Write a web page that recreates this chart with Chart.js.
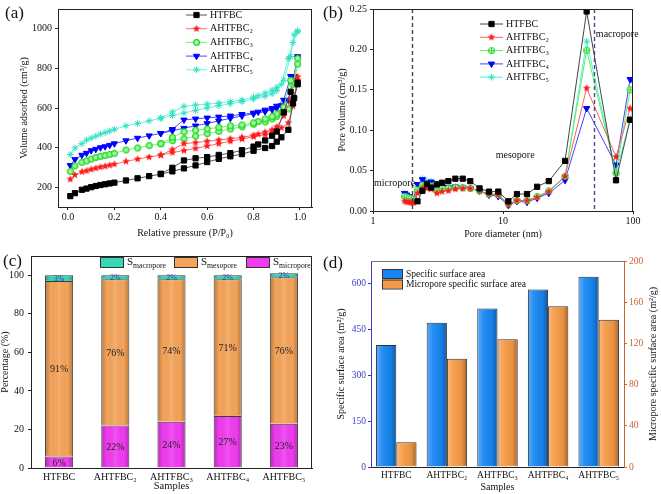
<!DOCTYPE html>
<html>
<head>
<meta charset="utf-8">
<title>Pore structure of HTFBC samples</title>
<script src="https://cdn.jsdelivr.net/npm/chart.js@4.4.1/dist/chart.umd.min.js"></script>
<style>
  html, body { margin: 0; padding: 0; background: #fff; }
  #page { position: relative; width: 661px; height: 494px; overflow: hidden; font-family: "Liberation Serif", "Times New Roman", serif; }
  #page canvas { position: absolute; }
  .tag { position: absolute; font-size: 17px; line-height: 20px; color: #111; }
</style>
</head>
<body>
<div id="page">
  <canvas id="chartA" width="330" height="240" style="left:0;top:0"></canvas>
  <canvas id="chartB" width="331" height="240" style="left:330px;top:0"></canvas>
  <canvas id="chartC" width="330" height="254" style="left:0;top:240px"></canvas>
  <canvas id="chartD" width="331" height="254" style="left:330px;top:240px"></canvas>
  <div class="tag" style="left:5px;top:3px">(a)</div>
  <div class="tag" style="left:323px;top:3px">(b)</div>
  <div class="tag" style="left:3px;top:251px">(c)</div>
  <div class="tag" style="left:323px;top:253px">(d)</div>
</div>
<script>
// ---- data -------------------------------------------------------------
const sampleNames = ['HTFBC', 'AHTFBC₂', 'AHTFBC₃', 'AHTFBC₄', 'AHTFBC₅'];

// (a) N2 isotherms, adsorption branch then desorption branch
const pAds = [0.01, 0.03, 0.06, 0.08, 0.10, 0.12, 0.14, 0.16, 0.18, 0.20, 0.25, 0.30, 0.35, 0.40, 0.45,
  0.50, 0.55, 0.60, 0.65, 0.70, 0.75, 0.80, 0.85, 0.88, 0.90, 0.92, 0.95, 0.97, 0.99];
const pDes = [0.99, 0.975, 0.96, 0.93, 0.90, 0.88, 0.85, 0.82, 0.80, 0.75, 0.70, 0.65, 0.60, 0.55, 0.50, 0.45, 0.40];
const adsHTFBC = [155, 170, 187, 193, 200, 206, 211, 215, 219, 223, 234, 245, 256, 266, 280, 295, 310, 327, 343, 356, 367, 384, 398, 408, 430, 452, 490, 623, 728];
const desHTFBC = [720, 650, 682, 578, 481, 460, 436, 416, 405, 387, 372, 363, 352, 346, 335, 298, 268];
const adsAH2 = [240, 262, 278, 283, 290, 296, 302, 306, 311, 316, 330, 342, 352, 362, 375, 385, 396, 408, 420, 432, 443, 455, 465, 475, 485, 500, 525, 610, 758];
const desAH2 = [740, 650, 640, 560, 505, 490, 478, 468, 462, 452, 445, 438, 432, 425, 420, 390, 362];
const adsAH3 = [280, 308, 326, 333, 342, 350, 356, 361, 366, 371, 388, 398, 410, 420, 435, 445, 458, 470, 482, 494, 505, 518, 530, 545, 558, 578, 595, 720, 850];
const desAH3 = [822, 730, 740, 605, 570, 557, 545, 532, 525, 515, 510, 502, 494, 488, 480, 452, 420];
const adsAH4 = [310, 340, 362, 372, 385, 392, 400, 405, 412, 420, 435, 448, 460, 472, 485, 498, 510, 522, 535, 548, 560, 570, 582, 592, 600, 612, 640, 740, 860];
const desAH4 = [850, 760, 760, 640, 610, 598, 590, 580, 575, 568, 560, 555, 550, 545, 540, 492, 472];
const adsAH5 = [365, 398, 420, 438, 448, 458, 468, 476, 484, 492, 510, 522, 535, 548, 562, 575, 588, 600, 612, 622, 632, 645, 660, 672, 688, 720, 850, 930, 985];
const desAH5 = [990, 970, 860, 740, 705, 690, 675, 662, 655, 640, 632, 625, 620, 615, 608, 580, 550];
const ticksAx = [0, 0.2, 0.4, 0.6, 0.8, 1.0];
const ticksAy = [200, 400, 600, 800, 1000];

// (b) pore size distribution
const poreDiam = [1.75, 1.82, 1.9, 1.97, 2.05, 2.2, 2.4, 2.6, 2.8, 3.1, 3.4, 3.8, 4.3, 4.9, 5.6, 6.6, 7.8, 9.2, 11, 12.8, 15.3, 18.3, 22.5, 30, 44, 74, 95, 105];
const pvHTFBC = [null, null, null, null, null, 0.012, 0.025, 0.033, 0.029, 0.033, 0.035, 0.037, 0.040, 0.040, 0.037, 0.028, 0.024, 0.024, 0.012, 0.021, 0.021, 0.030, 0.037, 0.062, 0.247, 0.038, 0.113, 0.113];
const pvAH2 = [0.012, 0.011, 0.011, 0.010, 0.010, 0.022, 0.028, 0.028, 0.027, 0.022, 0.024, 0.025, 0.027, 0.028, 0.028, 0.025, 0.021, 0.020, 0.008, 0.013, 0.013, 0.017, 0.024, 0.043, 0.152, 0.067, 0.127, 0.118];
const pvAH3 = [0.018, 0.017, 0.016, 0.015, 0.014, 0.026, 0.032, 0.033, 0.031, 0.025, 0.028, 0.028, 0.029, 0.029, 0.028, 0.025, 0.021, 0.020, 0.009, 0.013, 0.013, 0.018, 0.025, 0.043, 0.199, 0.047, 0.150, 0.152];
const pvAH4 = [0.022, 0.020, 0.018, 0.016, 0.015, 0.033, 0.039, 0.035, 0.036, 0.026, 0.030, 0.029, 0.030, 0.029, 0.028, 0.025, 0.020, 0.018, 0.007, 0.012, 0.011, 0.016, 0.022, 0.038, 0.127, 0.057, 0.163, 0.150];
const pvAH5 = [0.020, 0.019, 0.017, 0.016, 0.015, 0.030, 0.040, 0.037, 0.037, 0.027, 0.030, 0.030, 0.030, 0.029, 0.028, 0.024, 0.020, 0.019, 0.008, 0.013, 0.012, 0.017, 0.024, 0.042, 0.210, 0.047, 0.113, 0.152];
const poreBounds = [2, 50];
const ticksBx = [1, 10, 100];
const ticksBy = [0, 0.05, 0.10, 0.15, 0.20, 0.25];

// (c) share of surface area by pore type (%)
const microPct = [6, 22, 24, 27, 23];
const mesoPct = [91, 76, 74, 71, 76];
const macroPct = [3, 2, 2, 2, 2];
const ticksCy = [0, 20, 40, 60, 80, 100];

// (d) surface areas (m2/g)
const ssaTotal = [400, 473, 519, 582, 623];
const ssaMicro = [24, 105, 124, 156, 143];
const ticksDy = [0, 150, 300, 450, 600];
const ticksDy1 = [0, 40, 80, 120, 160, 200];

// ---- helpers ----------------------------------------------------------
const FAMILY = '"Liberation Serif", "Times New Roman", serif';
Chart.defaults.font.family = FAMILY;
Chart.defaults.color = '#111';
Chart.defaults.animation = false;

const tickFont = { family: FAMILY, size: 10 };
const titleFont = { family: FAMILY, size: 10 };

function setTicks(list) {
  return s => { s.ticks = list.map(v => ({ value: v })); };
}

function starImage(color, r) {
  const c = document.createElement('canvas');
  const s = Math.ceil(r * 2 + 2);
  c.width = c.height = s;
  const g = c.getContext('2d');
  g.beginPath();
  for (let k = 0; k < 10; k++) {
    const rad = k % 2 ? r * 0.45 : r;
    const ang = -Math.PI / 2 + k * Math.PI / 5;
    g.lineTo(s / 2 + rad * Math.cos(ang), s / 2 + rad * Math.sin(ang));
  }
  g.closePath();
  g.fillStyle = color;
  g.fill();
  return c;
}

function ringImage(color, inner, r, cross) {
  const c = document.createElement('canvas');
  const s = Math.ceil(r * 2 + 2);
  c.width = c.height = s;
  const g = c.getContext('2d');
  g.beginPath();
  g.arc(s / 2, s / 2, r - 0.5, 0, Math.PI * 2);
  if (inner) { g.fillStyle = inner; g.fill(); }
  g.strokeStyle = color;
  g.lineWidth = 1.2;
  g.stroke();
  if (cross) {
    g.beginPath();
    g.moveTo(s / 2 - r + 1, s / 2); g.lineTo(s / 2 + r - 1, s / 2);
    g.moveTo(s / 2, s / 2 - r + 1); g.lineTo(s / 2, s / 2 + r - 1);
    g.stroke();
  }
  return c;
}

function pts(xs, ys) {
  return xs.map((x, i) => ({ x, y: ys[i] })).filter(p => p.y !== null);
}

// frame lines on the sides that have no axis
const framePlugin = {
  id: 'frame',
  afterDatasetsDraw(chart, args, o) {
    const { ctx, chartArea: a } = chart;
    ctx.save();
    ctx.strokeStyle = o.color || '#222';
    ctx.lineWidth = 1;
    ctx.beginPath();
    if (o.top) { ctx.moveTo(a.left, a.top + 0.5); ctx.lineTo(a.right, a.top + 0.5); }
    if (o.right) { ctx.moveTo(a.right - 0.5, a.top); ctx.lineTo(a.right - 0.5, a.bottom); }
    ctx.stroke();
    ctx.restore();
  }
};

// legend with line + marker, drawn inside the plot
const lineLegend = {
  id: 'lineLegend',
  afterDraw(chart, args, o) {
    const ctx = chart.ctx;
    ctx.save();
    chart.data.datasets.forEach((ds, i) => {
      const y = o.y + i * o.gap;
      ctx.strokeStyle = ds.borderColor;
      ctx.lineWidth = 1;
      ctx.beginPath();
      ctx.moveTo(o.x, y); ctx.lineTo(o.x + o.len, y);
      ctx.stroke();
      ctx.fillStyle = ds.pointBackgroundColor;
      ctx.strokeStyle = ds.pointBorderColor;
      ctx.lineWidth = 1;
      Chart.helpers.drawPoint(ctx, {
        pointStyle: ds.pointStyle, radius: ds.pointRadius,
        rotation: ds.pointRotation || 0, borderWidth: 1
      }, o.x + o.len / 2, y);
      ctx.fillStyle = '#111';
      ctx.font = '10px ' + FAMILY;
      ctx.textBaseline = 'middle';
      ctx.textAlign = 'left';
      ctx.fillText(ds.label, o.x + o.len + 3, y);
    });
    ctx.restore();
  }
};

// dashed boundaries and region names in (b)
const poreMarks = {
  id: 'poreMarks',
  afterDatasetsDraw(chart, args, o) {
    const { ctx, chartArea: a, scales } = chart;
    ctx.save();
    o.lines.forEach(l => {
      const px = Math.round(scales.x.getPixelForValue(l.value)) + 0.5;
      ctx.strokeStyle = l.color;
      ctx.lineWidth = 1.4;
      ctx.setLineDash([4, 3]);
      ctx.beginPath();
      ctx.moveTo(px, a.top); ctx.lineTo(px, a.bottom);
      ctx.stroke();
    });
    ctx.setLineDash([]);
    ctx.fillStyle = '#111';
    ctx.font = '10px ' + FAMILY;
    ctx.textBaseline = 'middle';
    o.texts.forEach(t => {
      ctx.textAlign = t.align;
      ctx.fillText(t.text, scales.x.getPixelForValue(t.x) + (t.dx || 0), scales.y.getPixelForValue(t.y));
    });
    ctx.restore();
  }
};

// soft shading across each bar
const barShade = {
  id: 'barShade',
  afterDatasetsDraw(chart, args, o) {
    const ctx = chart.ctx;
    ctx.save();
    chart.data.datasets.forEach((ds, i) => {
      chart.getDatasetMeta(i).data.forEach(bar => {
        const { x, y, base, width } = bar.getProps(['x', 'y', 'base', 'width'], true);
        const l = x - width / 2 + 1, w = width - 2;
        const top = Math.min(y, base) + 1, h = Math.abs(base - y) - 2;
        if (h <= 0) return;
        const g = ctx.createLinearGradient(l, 0, l + w, 0);
        o.stops.forEach(s => g.addColorStop(s[0], s[1]));
        ctx.fillStyle = g;
        ctx.fillRect(l, top, w, h);
      });
    });
    ctx.restore();
  }
};

// percentage labels on the stacked bars
const barLabels = {
  id: 'barLabels',
  afterDatasetsDraw(chart) {
    const ctx = chart.ctx;
    ctx.save();
    ctx.textAlign = 'center';
    ctx.textBaseline = 'middle';
    chart.data.datasets.forEach((ds, i) => {
      chart.getDatasetMeta(i).data.forEach((bar, j) => {
        const { x, y, base } = bar.getProps(['x', 'y', 'base'], true);
        ctx.font = ds.labelSize + 'px ' + FAMILY;
        ctx.fillStyle = ds.labelColor;
        ctx.fillText(ds.data[j] + '%', x, (y + base) / 2 + 1);
      });
    });
    ctx.restore();
  }
};

// box legend; label "S_sub" is drawn with a subscript
const boxLegend = {
  id: 'boxLegend',
  afterDraw(chart, args, o) {
    const ctx = chart.ctx;
    ctx.save();
    o.items.forEach(it => {
      const ds = chart.data.datasets[it.index];
      ctx.fillStyle = ds.backgroundColor;
      ctx.fillRect(it.x, it.y, o.w, o.h);
      ctx.strokeStyle = '#333';
      ctx.lineWidth = 1;
      ctx.strokeRect(it.x + 0.5, it.y + 0.5, o.w, o.h);
      const parts = ds.label.split('_');
      ctx.fillStyle = '#111';
      ctx.textBaseline = 'middle';
      ctx.textAlign = 'left';
      ctx.font = o.size + 'px ' + FAMILY;
      let tx = it.x + o.w + 4;
      const ty = it.y + o.h / 2 + 0.5;
      ctx.fillText(parts[0], tx, ty);
      if (parts[1]) {
        tx += ctx.measureText(parts[0]).width;
        ctx.font = (o.size * 0.7) + 'px ' + FAMILY;
        ctx.fillText(parts[1], tx, ty + 3);
      }
    });
    ctx.restore();
  }
};

// right-hand title reading bottom to top
const sideTitle = {
  id: 'sideTitle',
  afterDraw(chart, args, o) {
    const { ctx, chartArea: a } = chart;
    ctx.save();
    ctx.translate(o.x, (a.top + a.bottom) / 2);
    ctx.rotate(-Math.PI / 2);
    ctx.fillStyle = '#111';
    ctx.font = '10px ' + FAMILY;
    ctx.textAlign = 'center';
    ctx.textBaseline = 'middle';
    ctx.fillText(o.text, 0, 0);
    ctx.restore();
  }
};

function axisStyle(color) {
  return {
    grid: { display: true, drawOnChartArea: false, tickLength: 3, tickColor: color },
    border: { display: true, color: color, width: 1 }
  };
}

const noGrid = { display: false, drawTicks: false };

// ---- (a) isotherms ----------------------------------------------------
const pressure = pAds.concat(pDes);
const isoSeries = [
  { label: sampleNames[0], ads: adsHTFBC, des: desHTFBC, line: '#555', fill: '#000', edge: '#000', style: 'rect', r: 3.7 },
  { label: sampleNames[1], ads: adsAH2, des: desAH2, line: '#ff6a6a', fill: '#ff1a1a', edge: '#ff1a1a', style: starImage('#ff1a1a', 4), r: 4 },
  { label: sampleNames[2], ads: adsAH3, des: desAH3, line: '#6cf56c', fill: '#b8ffb8', edge: '#1ed21e', style: ringImage('#1ed21e', '#9dff9d', 3.4, false), r: 3.4 },
  { label: sampleNames[3], ads: adsAH4, des: desAH4, line: '#4a4aff', fill: '#0000ff', edge: '#0000ff', style: 'triangle', r: 3.6, rot: 180 },
  { label: sampleNames[4], ads: adsAH5, des: desAH5, line: '#66f5dd', fill: '#33e8c8', edge: '#2ee0c0', style: 'star', r: 3.4 }
];

new Chart(document.getElementById('chartA'), {
  type: 'line',
  data: {
    datasets: isoSeries.map(s => ({
      label: s.label,
      data: pts(pressure, s.ads.concat(s.des)),
      borderColor: s.line,
      borderWidth: 1,
      pointStyle: s.style,
      pointRadius: s.r,
      pointRotation: s.rot || 0,
      pointBackgroundColor: s.fill,
      pointBorderColor: s.edge,
      pointBorderWidth: 1,
      tension: 0
    }))
  },
  options: {
    responsive: false,
    devicePixelRatio: 1,
    layout: { padding: { top: 2, right: 18, left: 0, bottom: 0 } },
    plugins: {
      legend: { display: false },
      tooltip: { enabled: false },
      frame: { top: true, right: true },
      lineLegend: { x: 186, y: 15, gap: 13.7, len: 21 }
    },
    scales: {
      x: Object.assign({
        type: 'linear', min: -0.043, max: 1.052,
        afterBuildTicks: setTicks(ticksAx),
        afterFit: s => { s.height = 33; },
        ticks: { callback: v => v.toFixed(1), font: tickFont, padding: 1, autoSkip: false, maxRotation: 0 },
        title: { display: true, text: 'Relative pressure (P/P₀)', font: titleFont, padding: { top: 0, bottom: 1 } }
      }, axisStyle('#222')),
      y: Object.assign({
        type: 'linear', min: 100, max: 1100,
        afterBuildTicks: setTicks(ticksAy),
        afterFit: s => { s.width = 58; },
        ticks: { callback: v => String(v), font: tickFont, padding: 3, autoSkip: false },
        title: { display: true, text: 'Volume adsorbed (cm³/g)', font: titleFont, padding: { top: 18, bottom: 0 } }
      }, axisStyle('#222'))
    }
  },
  plugins: [framePlugin, lineLegend]
});

// ---- (b) pore size distribution ---------------------------------------
const psdSeries = [
  { label: sampleNames[0], v: pvHTFBC, line: '#444', fill: '#000', edge: '#000', style: 'rect', r: 3.7 },
  { label: sampleNames[1], v: pvAH2, line: '#ff6060', fill: '#ff1a1a', edge: '#ff1a1a', style: starImage('#ff1a1a', 4), r: 4 },
  { label: sampleNames[2], v: pvAH3, line: '#5cf05c', fill: '#e6ffe6', edge: '#3ad83a', style: ringImage('#3ad83a', '#eaffea', 3.5, true), r: 3.5 },
  { label: sampleNames[3], v: pvAH4, line: '#4444ff', fill: '#0000ff', edge: '#0000ff', style: 'triangle', r: 3.6, rot: 180 },
  { label: sampleNames[4], v: pvAH5, line: '#4cf5dc', fill: '#2ee6c6', edge: '#2ee6c6', style: 'star', r: 3.4 }
];

new Chart(document.getElementById('chartB'), {
  type: 'line',
  data: {
    datasets: psdSeries.map(s => ({
      label: s.label,
      data: pts(poreDiam, s.v),
      borderColor: s.line,
      borderWidth: 1,
      pointStyle: s.style,
      pointRadius: s.r,
      pointRotation: s.rot || 0,
      pointBackgroundColor: s.fill,
      pointBorderColor: s.edge,
      pointBorderWidth: 1,
      tension: 0
    }))
  },
  options: {
    responsive: false,
    devicePixelRatio: 1,
    layout: { padding: { top: 7, right: 28, left: 0, bottom: 0 } },
    plugins: {
      legend: { display: false },
      tooltip: { enabled: false },
      frame: { top: true, right: true },
      lineLegend: { x: 150, y: 24, gap: 13.3, len: 23 },
      poreMarks: {
        lines: [{ value: poreBounds[0], color: '#444' }, { value: poreBounds[1], color: '#4a4a8c' }],
        texts: [
          { text: 'micropore', x: 1, y: 0.0347, align: 'left', dx: 1 },
          { text: 'mesopore', x: 12.4, y: 0.0685, align: 'center' },
          { text: 'macropore', x: 50, y: 0.2186, align: 'left', dx: 2 }
        ]
      }
    },
    scales: {
      x: Object.assign({
        type: 'logarithmic', min: 1, max: 100,
        afterBuildTicks: setTicks(ticksBx),
        afterFit: s => { s.height = 29; },
        ticks: { callback: v => String(v), font: tickFont, padding: 1, autoSkip: false, maxRotation: 0 },
        title: { display: true, text: 'Pore diameter (nm)', font: titleFont, padding: { top: 0, bottom: 0 } }
      }, axisStyle('#222')),
      y: Object.assign({
        type: 'linear', min: 0, max: 0.25,
        afterBuildTicks: setTicks(ticksBy),
        afterFit: s => { s.width = 43; },
        ticks: { callback: v => v.toFixed(2), font: tickFont, padding: 3, autoSkip: false },
        title: { display: true, text: 'Pore volume (cm³/g)', font: titleFont, padding: { top: 6, bottom: 0 } }
      }, axisStyle('#222'))
    }
  },
  plugins: [framePlugin, poreMarks, lineLegend]
});

// ---- (c) stacked percentage bars --------------------------------------
new Chart(document.getElementById('chartC'), {
  type: 'bar',
  data: {
    labels: sampleNames,
    datasets: [
      { label: 'S_micropore', data: microPct, backgroundColor: '#f03cf0', labelColor: '#222', labelSize: 10 },
      { label: 'S_mesopore', data: mesoPct, backgroundColor: '#f5a45a', labelColor: '#222', labelSize: 10 },
      { label: 'S_macropore', data: macroPct, backgroundColor: '#36d6b6', labelColor: '#2a3aa8', labelSize: 8 }
    ].map(d => Object.assign(d, { borderColor: '#3a3a3a', borderWidth: 1, barPercentage: 0.5, categoryPercentage: 1 }))
  },
  options: {
    responsive: false,
    devicePixelRatio: 1,
    layout: { padding: { top: 16, right: 18, left: 0, bottom: 0 } },
    plugins: {
      legend: { display: false },
      tooltip: { enabled: false },
      frame: { top: true, right: true },
      barShade: { stops: [[0, 'rgba(0,0,0,0.22)'], [0.18, 'rgba(0,0,0,0)'], [0.5, 'rgba(255,255,255,0.12)'], [0.82, 'rgba(0,0,0,0)'], [1, 'rgba(0,0,0,0.22)']] },
      boxLegend: {
        w: 23, h: 10, size: 11,
        items: [{ index: 2, x: 100, y: 17 }, { index: 1, x: 174, y: 17 }, { index: 0, x: 246, y: 17 }]
      }
    },
    scales: {
      x: {
        stacked: true,
        afterFit: s => { s.height = 26; },
        ticks: { font: tickFont, padding: 3, autoSkip: false, maxRotation: 0 },
        grid: noGrid,
        border: { display: true, color: '#222' },
        title: { display: true, text: 'Samples', font: { family: FAMILY, size: 10.5 }, padding: { top: 0, bottom: 1 } }
      },
      y: Object.assign({
        stacked: true, min: 0, max: 110,
        afterBuildTicks: setTicks(ticksCy),
        afterFit: s => { s.width = 31; },
        ticks: { font: tickFont, padding: 4, autoSkip: false },
        title: { display: true, text: 'Percentage (%)', font: { family: FAMILY, size: 10, lineHeight: 1 }, padding: { top: 0, bottom: 0 } }
      }, axisStyle('#222'))
    }
  },
  plugins: [framePlugin, barShade, barLabels, boxLegend]
});

// ---- (d) specific surface areas, two y axes -----------------------------
const leftColor = '#3c3cc8';
const rightColor = '#c8642d';
new Chart(document.getElementById('chartD'), {
  type: 'bar',
  data: {
    labels: sampleNames,
    datasets: [
      { label: 'Specific surface area', data: ssaTotal, yAxisID: 'y', backgroundColor: '#1786f2' },
      { label: 'Micropore specific surface area', data: ssaMicro, yAxisID: 'y1', backgroundColor: '#f59a45' }
    ].map(d => Object.assign(d, { borderColor: '#2e2e2e', borderWidth: 1, barPercentage: 1, categoryPercentage: 0.8 }))
  },
  options: {
    responsive: false,
    devicePixelRatio: 1,
    layout: { padding: { top: 21, right: 0, left: 0, bottom: 0 } },
    plugins: {
      legend: { display: false },
      tooltip: { enabled: false },
      frame: { top: true, right: false, color: '#777' },
      barShade: { stops: [[0, 'rgba(255,255,255,0.28)'], [0.3, 'rgba(255,255,255,0.06)'], [0.75, 'rgba(0,0,0,0.05)'], [1, 'rgba(0,0,0,0.28)']] },
      boxLegend: {
        w: 20, h: 9, size: 9.5,
        items: [{ index: 0, x: 52, y: 29 }, { index: 1, x: 52, y: 39.5 }]
      },
      sideTitle: { x: 323, text: 'Micropore specific surface area (m²/g)' }
    },
    scales: {
      x: {
        afterFit: s => { s.height = 27; },
        ticks: { font: { family: FAMILY, size: 9.5 }, padding: 3, autoSkip: false, maxRotation: 0 },
        grid: noGrid,
        border: { display: true, color: '#222' },
        title: { display: true, text: 'Samples', font: { family: FAMILY, size: 10 }, padding: { top: 0, bottom: 1 } }
      },
      y: Object.assign({
        position: 'left', min: 0, max: 675,
        afterBuildTicks: setTicks(ticksDy),
        afterFit: s => { s.width = 41; },
        ticks: { font: { family: FAMILY, size: 9.5 }, color: leftColor, padding: 2, autoSkip: false },
        title: { display: true, text: 'Specific surface area (m²/g)', font: titleFont, padding: { top: 5, bottom: 0 } }
      }, axisStyle(leftColor)),
      y1: Object.assign({
        position: 'right', min: 0, max: 200,
        afterBuildTicks: setTicks(ticksDy1),
        afterFit: s => { s.width = 37; },
        ticks: { font: { family: FAMILY, size: 9.5 }, color: rightColor, padding: 2, autoSkip: false }
      }, axisStyle(rightColor))
    }
  },
  plugins: [framePlugin, barShade, boxLegend, sideTitle]
});
</script>
</body>
</html>
